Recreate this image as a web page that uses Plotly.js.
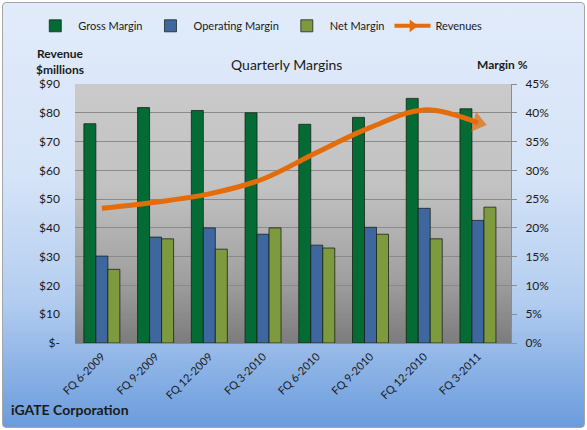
<!DOCTYPE html>
<html>
<head>
<meta charset="utf-8">
<script src="https://cdn.plot.ly/plotly-3.0.1.min.js"></script>
<style>
  html, body { margin: 0; padding: 0; background: #ffffff; }
  #wrap { position: relative; width: 587px; height: 430px; }
  #bg { position: absolute; left: 2px; top: 2px; width: 581px; height: 424px;
        border: 1px solid #a6a6a6; border-radius: 4px;
        background: linear-gradient(to bottom, #e1ebfa 0%, #d6e4f8 40%, #b3cdf0 70%, #6a9cdc 100%); }
  #chart { position: absolute; left: 0; top: 0; width: 587px; height: 430px; }
</style>
</head>
<body>
<div id="wrap"><div id="bg"></div><div id="chart"></div></div>
<script>
const categories = ['FQ 6-2009','FQ 9-2009','FQ 12-2009','FQ 3-2010','FQ 6-2010','FQ 9-2010','FQ 12-2010','FQ 3-2011'];
const grossMargin = [38.1, 40.9, 40.4, 40.0, 38.0, 39.2, 42.5, 40.7];
const operatingMargin = [15.1, 18.4, 20.0, 18.9, 17.0, 20.1, 23.4, 21.3];
const netMargin = [12.8, 18.1, 16.3, 20.0, 16.5, 18.9, 18.1, 23.6];
const revenues = [46.8, 48.9, 51.8, 57.0, 66.2, 74.9, 81.0, 76.5];
const revenueTicks = [0, 10, 20, 30, 40, 50, 60, 70, 80, 90];
const revenueTickText = ['$-', '$10', '$20', '$30', '$40', '$50', '$60', '$70', '$80', '$90'];

const FONT = 'Lato, "Liberation Sans", sans-serif';
const barLine = {color: 'rgba(20,30,20,0.75)', width: 1};

const arrowSizes = revenues.map((v, i) => i === revenues.length - 1 ? 18 : 0);

const traces = [
  {type: 'bar', name: 'Gross Margin', x: categories, y: grossMargin, yaxis: 'y',
   marker: {color: '#036b33', line: barLine}},
  {type: 'bar', name: 'Operating Margin', x: categories, y: operatingMargin, yaxis: 'y',
   marker: {color: '#3e67a0', line: barLine}},
  {type: 'bar', name: 'Net Margin', x: categories, y: netMargin, yaxis: 'y',
   marker: {color: '#7e9a3e', line: barLine}},
  {type: 'scatter', mode: 'lines+markers', name: 'Revenues', x: categories, y: revenues, yaxis: 'y2',
   showlegend: false, cliponaxis: false,
   line: {color: '#e46c0a', width: 5, shape: 'spline', smoothing: 1.0},
   marker: {symbol: 'triangle-right', angle: 14, size: arrowSizes, color: '#e46c0a', line: {width: 0}}},
  {type: 'scatter', mode: 'lines+markers', name: 'Revenues', x: [null], y: [null], yaxis: 'y2',
   line: {color: '#e46c0a', width: 4},
   marker: {symbol: 'triangle-right', size: 11, color: '#e46c0a'}}
];

const gradSvg = '<svg xmlns="http://www.w3.org/2000/svg" width="100" height="100" preserveAspectRatio="none">' +
  '<defs><linearGradient id="g" x1="0" y1="0" x2="0" y2="1">' +
  '<stop offset="0" stop-color="#cacaca"/><stop offset="0.4" stop-color="#c2c2c2"/>' +
  '<stop offset="0.75" stop-color="#a0a0a0"/><stop offset="1" stop-color="#7c7c7c"/>' +
  '</linearGradient></defs><rect width="100" height="100" fill="url(#g)"/></svg>';

const layout = {
  width: 587, height: 430,
  margin: {l: 75, r: 76, t: 83, b: 87},
  paper_bgcolor: 'rgba(0,0,0,0)',
  plot_bgcolor: 'rgba(0,0,0,0)',
  font: {family: FONT, size: 12, color: '#1a1a1a'},
  barmode: 'group', bargap: 0.33, bargroupgap: 0,
  showlegend: true,
  legend: {orientation: 'h', x: -0.098, xanchor: 'left', y: 1.22, yanchor: 'middle', itemwidth: 36,
           font: {family: FONT, size: 11, color: '#1a1a1a'}, bgcolor: 'rgba(0,0,0,0)'},
  xaxis: {type: 'category', tickangle: -45, tickfont: {size: 11, color: '#1a1a1a'},
          showline: true, linecolor: '#8c8c8c', linewidth: 1, ticks: '', showgrid: false,
          ticklabelstandoff: 2},
  yaxis: {range: [0, 45], dtick: 5, ticksuffix: '%', side: 'right',
          showgrid: true, gridcolor: '#8a8a8a', gridwidth: 1, zeroline: false,
          showline: true, linecolor: '#8c8c8c', ticks: 'outside', ticklen: 5, tickcolor: '#8c8c8c',
          ticklabelstandoff: 6,
          tickfont: {size: 12, color: '#1a1a1a'}},
  yaxis2: {range: [0, 90], overlaying: 'y', side: 'left', tickvals: revenueTicks, ticktext: revenueTickText,
           showgrid: false, zeroline: false, showline: false, ticks: '',
           ticklabelstandoff: 14,
           tickfont: {size: 12, color: '#1a1a1a'}},
  images: [{source: 'data:image/svg+xml;charset=utf-8,' + encodeURIComponent(gradSvg),
            xref: 'paper', yref: 'paper', x: 0, y: 1, sizex: 1, sizey: 1,
            sizing: 'stretch', layer: 'below', xanchor: 'left', yanchor: 'top'}],
  annotations: [
    {text: 'Quarterly Margins', xref: 'paper', yref: 'paper', x: 0.484, y: 1.077, yanchor: 'middle',
     showarrow: false, font: {size: 14, color: '#1a1a1a'}},
    {text: '<b>Revenue<br>$millions</b>', xref: 'paper', yref: 'paper', x: -0.094, y: 1.088, yanchor: 'middle',
     showarrow: false, align: 'center', font: {size: 12, color: '#1a1a1a'}},
    {text: '<b>Margin %</b>', xref: 'paper', yref: 'paper', x: 1.044, y: 1.077, yanchor: 'middle',
     showarrow: false, font: {size: 12, color: '#1a1a1a'}},
    {text: '<b>iGATE Corporation</b>', xref: 'paper', yref: 'paper', x: -0.152, y: -0.258, yanchor: 'middle',
     xanchor: 'left', showarrow: false, font: {size: 14, color: '#1a1a1a'}}
  ]
};

Plotly.newPlot('chart', traces, layout, {displayModeBar: false, staticPlot: true});
</script>
</body>
</html>
